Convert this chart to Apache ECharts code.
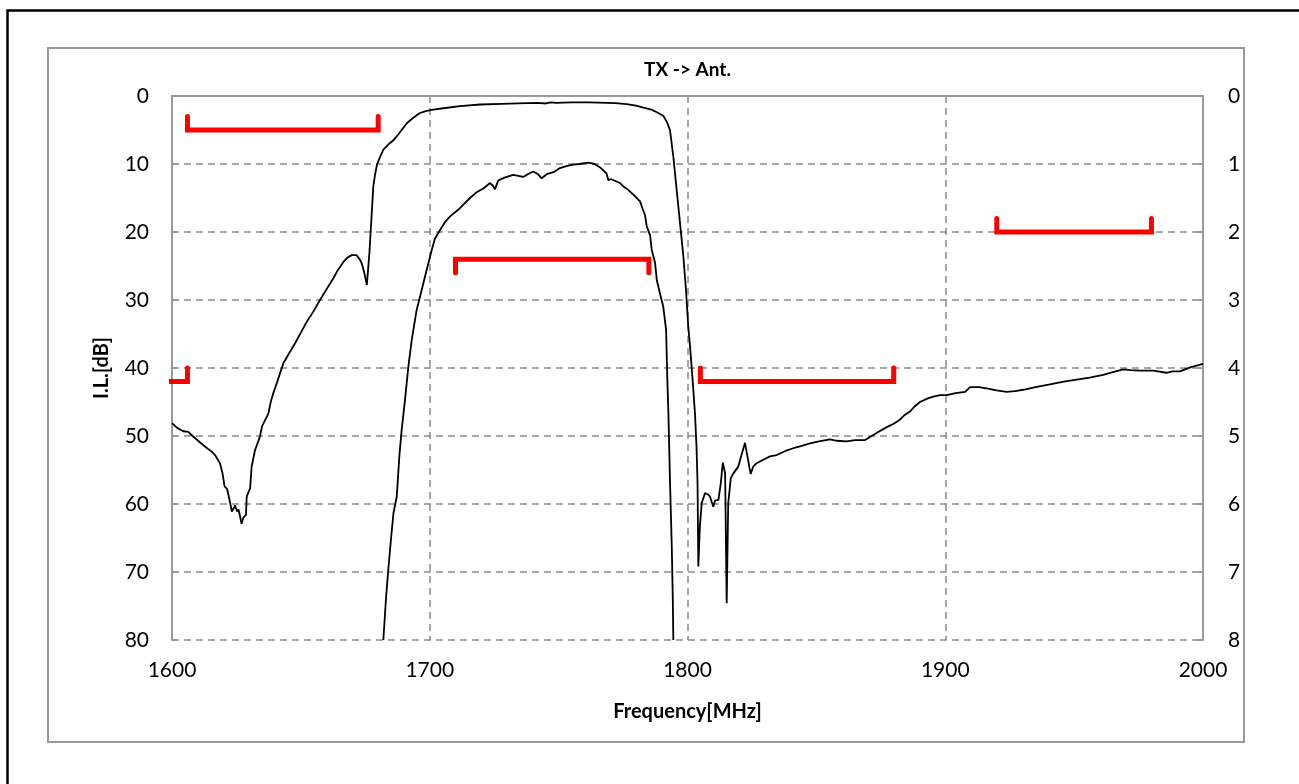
<!DOCTYPE html>
<html>
<head>
<meta charset="utf-8">
<title>TX -> Ant.</title>
<script src="https://cdn.jsdelivr.net/npm/echarts@6/dist/echarts.min.js"></script>
<style>
  html, body { margin: 0; padding: 0; background: #fff; }
  #chart { width: 1299px; height: 784px; }
</style>
</head>
<body>
<div id="chart"></div>
<script>
// Attenuation trace (left axis, dB 0-80)
const attFreq = [
  1600, 1602, 1604.4, 1606.3, 1608, 1611, 1614, 1615.4, 1616.7, 1618.6,
  1619.6, 1620.4, 1621.4, 1622.5, 1623.2, 1624, 1624.4, 1625.3, 1625.8, 1626.4,
  1627.0, 1627.7, 1628.7, 1629.0, 1630.3, 1630.9, 1632.2, 1634.1, 1635, 1637.4,
  1638.3, 1639.3, 1640.6, 1643.2, 1645.5, 1647.7, 1650, 1652.3, 1655, 1657.4,
  1660, 1662.6, 1664.5, 1666.5, 1668, 1669.7, 1671.6, 1672.8, 1673.6, 1674.6,
  1675.6, 1676.6, 1677.3, 1678.1, 1678.8, 1679.6, 1680.7, 1682.0, 1684, 1685.9,
  1687.5, 1689.1, 1691.1, 1693.6, 1696.2, 1698.8, 1701.4, 1705.3, 1711.7, 1719.5,
  1728, 1737.6, 1742, 1745, 1747, 1749, 1755, 1762, 1768.7, 1772,
  1776.4, 1780, 1782.9, 1786, 1788.1, 1790.6, 1792, 1793.2, 1794.5, 1795.8,
  1797.1, 1798.4, 1799.4, 1800.3, 1801.0, 1802.0, 1802.9, 1803.5, 1803.9, 1804.2,
  1804.8, 1805.5, 1806.8, 1808.0, 1808.7, 1810.0, 1810.7, 1812.0, 1812.9, 1813.7,
  1814.6, 1815.2, 1815.8, 1816.8, 1817.8, 1819.7, 1822.3, 1824.5, 1825.5, 1826.8,
  1829.4, 1832, 1834.6, 1838, 1841.0, 1844, 1847.5, 1851, 1855.3, 1858,
  1861.7, 1865, 1868.9, 1871, 1874, 1877.3, 1880, 1882.4, 1884, 1886.3,
  1888, 1890.2, 1893, 1895.4, 1898, 1900.6, 1904, 1907.7, 1909.6, 1913,
  1916.1, 1919.9, 1923.8, 1927, 1930.3, 1935, 1940.6, 1946, 1951.0, 1956,
  1961.3, 1965, 1969.1, 1972, 1975.6, 1980.7, 1985.9, 1988, 1991.1, 1995.0,
  2000
];
const attDb = [
  48.1, 48.8, 49.3, 49.4, 50.0, 51.0, 51.9, 52.3, 52.8, 54.0,
  55.5, 57.4, 57.8, 59.7, 61.1, 60.6, 60.2, 61.1, 60.8, 61.8,
  62.9, 62.0, 61.6, 58.9, 57.7, 54.5, 52.1, 50.1, 48.5, 46.7,
  45.0, 43.7, 42.3, 39.3, 37.8, 36.4, 34.8, 33.2, 31.6, 30.0,
  28.4, 26.8, 25.5, 24.4, 23.8, 23.4, 23.4, 24.0, 24.6, 26.0,
  27.8, 23.0, 18.5, 13.3, 11.5, 10.0, 9.0, 7.9, 7.1, 6.5,
  5.8, 5.0, 4.0, 3.2, 2.5, 2.2, 2.0, 1.8, 1.5, 1.25,
  1.15, 1.05, 1.0, 1.1, 0.95, 1.0, 0.95, 0.95, 1.0, 1.05,
  1.2, 1.4, 1.7, 2.0, 2.4, 2.9, 3.8, 5.0, 8.9, 13.8,
  18.7, 23.6, 28.5, 33.9, 36.9, 41.8, 46.7, 51.6, 57.0, 69.2,
  63.3, 59.9, 58.4, 58.6, 58.9, 60.4, 59.5, 59.4, 57.0, 53.9,
  55.5, 74.6, 59.9, 56.2, 55.5, 54.5, 51.0, 55.6, 54.5, 54.0,
  53.5, 53.0, 52.8, 52.2, 51.8, 51.5, 51.1, 50.8, 50.5, 50.7,
  50.8, 50.6, 50.6, 50.1, 49.4, 48.7, 48.2, 47.6, 47.0, 46.4,
  45.7, 45.0, 44.5, 44.2, 44.0, 44.0, 43.7, 43.5, 42.8, 42.8,
  43.0, 43.3, 43.5, 43.4, 43.2, 42.8, 42.4, 42.0, 41.7, 41.4,
  41.0, 40.6, 40.2, 40.3, 40.4, 40.4, 40.7, 40.5, 40.5, 39.9,
  39.4
];

// Passband insertion loss trace (right axis, dB 0-8)
const ilFreq = [
  1682.0, 1683.0, 1683.9, 1685.0, 1685.9, 1687.2, 1688.2, 1689.1, 1690.4, 1691.7,
  1693.0, 1694.9, 1696.9, 1698.8, 1700.8, 1702, 1704.0, 1706, 1707.9, 1711.7,
  1715.6, 1718, 1720.8, 1723.4, 1724.5, 1725.3, 1726.6, 1729, 1732.4, 1736.3,
  1738, 1740.2, 1742, 1743.4, 1745.4, 1748, 1750.5, 1753, 1755.7, 1758,
  1761.5, 1764, 1766.1, 1768.6, 1769.3, 1770.2, 1772, 1773.8, 1775.1, 1777,
  1779.0, 1781.6, 1782.5, 1783.5, 1784.2, 1785.5, 1786.1, 1787.4, 1788.1, 1789.3,
  1790.6, 1791.7, 1792.2, 1792.6, 1793.2, 1793.9, 1794.3, 1794.5
];
const ilDb = [
  8.0, 7.4, 6.97, 6.5, 6.14, 5.89, 5.3, 4.91, 4.47, 3.98,
  3.59, 3.15, 2.85, 2.56, 2.26, 2.1, 1.97, 1.85, 1.77, 1.65,
  1.50, 1.42, 1.36, 1.28, 1.32, 1.37, 1.24, 1.2, 1.16, 1.19,
  1.15, 1.11, 1.15, 1.21, 1.15, 1.12, 1.06, 1.03, 1.01, 1.0,
  0.98, 1.0, 1.05, 1.14, 1.24, 1.22, 1.25, 1.28, 1.33, 1.38,
  1.45, 1.55, 1.65, 1.75, 1.92, 2.05, 2.26, 2.45, 2.71, 2.90,
  3.10, 3.44, 4.2, 4.67, 5.65, 6.63, 7.41, 8.0
];

// Specification masks (left axis): span, limit level, end-tick level
const maskStart = [1590, 1606, 1710, 1805, 1920];
const maskEnd   = [1606, 1680, 1785, 1880, 1980];
const maskLevel = [42, 5, 24, 42, 20];
const maskTip   = [40, 3, 26, 40, 18];

// Axis ticks
const freqMin = 1600, freqMax = 2000, freqStep = 100;
const attMin = 0, attMax = 80, attStep = 10;
const ilMin = 0, ilMax = 8, ilStep = 1;

const FONT = 'Lato, "Noto Sans", sans-serif';
const GRID_LEFT = 172, GRID_TOP = 96, GRID_RIGHT = 1203, GRID_BOTTOM = 640;

const zip = (xs, ys) => xs.map((x, i) => [x, ys[i]]);
const plain = v => String(v);

const maskSeries = maskStart.map((s, i) => ({
  type: 'line',
  yAxisIndex: 0,
  symbol: 'none',
  silent: true,
  clip: true,
  z: 3,
  lineStyle: { color: '#ff0000', width: 5, cap: 'round', join: 'miter' },
  data: [[s, maskTip[i]], [s, maskLevel[i]], [maskEnd[i], maskLevel[i]], [maskEnd[i], maskTip[i]]]
}));

const gridDash = { color: '#8a8a8a', width: 1.5, type: [7, 5] };

const chart = echarts.init(document.getElementById('chart'), null, { renderer: 'canvas' });
chart.setOption({
  animation: false,
  backgroundColor: '#ffffff',
  grid: {
    left: GRID_LEFT, top: GRID_TOP,
    right: 1299 - GRID_RIGHT, bottom: 784 - GRID_BOTTOM,
    containLabel: false
  },
  graphic: [
    { type: 'rect', z: -10, shape: { x: 7.5, y: 10.5, width: 1300, height: 800 },
      style: { fill: 'none', stroke: '#000', lineWidth: 2.5 } },
    { type: 'rect', z: -10, shape: { x: 48, y: 48, width: 1196, height: 694 },
      style: { fill: 'none', stroke: '#999', lineWidth: 2 } },
    { type: 'text', z: 10, style: { text: 'TX -> Ant.', x: (GRID_LEFT + GRID_RIGHT) / 2, y: 70,
      align: 'center', verticalAlign: 'middle', fill: '#000',
      font: 'bold 19px ' + FONT } }
  ],
  xAxis: {
    type: 'value', min: freqMin, max: freqMax, interval: freqStep,
    name: 'Frequency[MHz]', nameLocation: 'middle', nameGap: 62,
    nameTextStyle: { fontFamily: FONT, fontWeight: 'bold', fontSize: 20, color: '#000' },
    axisLine: { show: true, lineStyle: { color: '#9a9a9a', width: 2 } },
    axisTick: { show: false },
    axisLabel: { fontFamily: FONT, fontSize: 21, color: '#000', margin: 20, formatter: plain },
    splitLine: { show: true, lineStyle: gridDash }
  },
  yAxis: [
    {
      type: 'value', min: attMin, max: attMax, interval: attStep, inverse: true, position: 'left',
      name: 'I.L.[dB]', nameLocation: 'middle', nameGap: 60, nameRotate: 90,
      nameTextStyle: { fontFamily: FONT, fontWeight: 'bold', fontSize: 20, color: '#000' },
      axisLine: { show: true, onZero: false, lineStyle: { color: '#9a9a9a', width: 2 } },
      axisTick: { show: true, inside: true, length: 5, lineStyle: { color: '#9a9a9a', width: 2 } },
      axisLabel: { fontFamily: FONT, fontSize: 21, color: '#000', margin: 23, formatter: plain },
      splitLine: { show: true, lineStyle: gridDash }
    },
    {
      type: 'value', min: ilMin, max: ilMax, interval: ilStep, inverse: true, position: 'right',
      axisLine: { show: true, onZero: false, lineStyle: { color: '#9a9a9a', width: 2 } },
      axisTick: { show: true, inside: true, length: 5, lineStyle: { color: '#9a9a9a', width: 2 } },
      axisLabel: { fontFamily: FONT, fontSize: 21, color: '#000', margin: 25, formatter: plain },
      splitLine: { show: false }
    }
  ],
  series: [
    {
      type: 'line', yAxisIndex: 0, symbol: 'none', silent: true, clip: true, z: 4,
      lineStyle: { color: '#000', width: 1.8 },
      data: zip(attFreq, attDb)
    },
    {
      type: 'line', yAxisIndex: 1, symbol: 'none', silent: true, clip: true, z: 4,
      lineStyle: { color: '#000', width: 1.8 },
      data: zip(ilFreq, ilDb)
    }
  ].concat(maskSeries)
});
</script>
</body>
</html>
